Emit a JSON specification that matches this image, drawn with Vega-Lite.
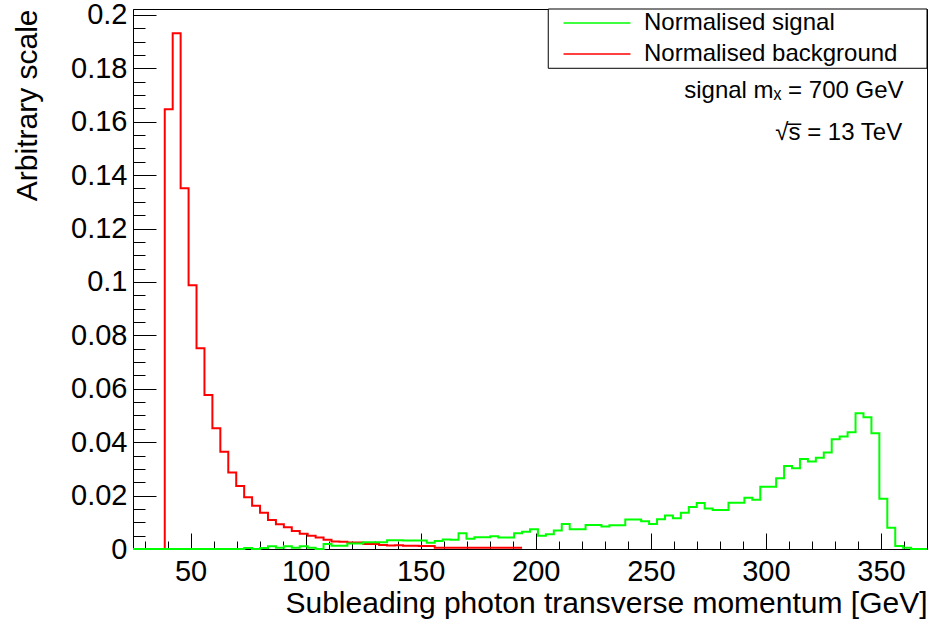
{
  "$schema": "https://vega.github.io/schema/vega-lite/v6.json",
  "width": 794,
  "height": 540,
  "autosize": {"type": "none"},
  "padding": {"left": 133, "top": 9, "right": 6, "bottom": 72},
  "background": "white",
  "datasets": {
    "signal": [
      {"pt": 25, "frac": 0}, {"pt": 28.45, "frac": 0}, {"pt": 31.9, "frac": 0}, {"pt": 35.35, "frac": 0},
      {"pt": 38.8, "frac": 0}, {"pt": 42.25, "frac": 0}, {"pt": 45.7, "frac": 0}, {"pt": 49.15, "frac": 0},
      {"pt": 52.6, "frac": 0}, {"pt": 56.05, "frac": 0}, {"pt": 59.5, "frac": 0}, {"pt": 62.95, "frac": 0},
      {"pt": 66.4, "frac": 0}, {"pt": 69.85, "frac": 0}, {"pt": 73.3, "frac": 0.0004}, {"pt": 76.75, "frac": 0},
      {"pt": 80.2, "frac": 0.0004}, {"pt": 83.65, "frac": 0.001}, {"pt": 87.1, "frac": 0.0005}, {"pt": 90.55, "frac": 0.001},
      {"pt": 94, "frac": 0.0005}, {"pt": 97.45, "frac": 0.001}, {"pt": 100.9, "frac": 0.0005}, {"pt": 104.35, "frac": 0},
      {"pt": 107.8, "frac": 0.0019}, {"pt": 111.25, "frac": 0.0012}, {"pt": 114.7, "frac": 0.0012}, {"pt": 118.15, "frac": 0.0021},
      {"pt": 121.6, "frac": 0.0021}, {"pt": 125.05, "frac": 0.0025}, {"pt": 128.5, "frac": 0.0025}, {"pt": 131.95, "frac": 0.0025},
      {"pt": 135.4, "frac": 0.0033}, {"pt": 138.85, "frac": 0.0033}, {"pt": 142.3, "frac": 0.0032}, {"pt": 145.75, "frac": 0.0032},
      {"pt": 149.2, "frac": 0.0032}, {"pt": 152.65, "frac": 0.0023}, {"pt": 156.1, "frac": 0.003}, {"pt": 159.55, "frac": 0.0036},
      {"pt": 163, "frac": 0.0035}, {"pt": 166.45, "frac": 0.0059}, {"pt": 169.9, "frac": 0.0038}, {"pt": 173.35, "frac": 0.0044},
      {"pt": 176.8, "frac": 0.0044}, {"pt": 180.25, "frac": 0.0048}, {"pt": 183.7, "frac": 0.0043}, {"pt": 187.15, "frac": 0.0043},
      {"pt": 190.6, "frac": 0.0059}, {"pt": 194.05, "frac": 0.0065}, {"pt": 197.5, "frac": 0.0074}, {"pt": 200.95, "frac": 0.005},
      {"pt": 204.4, "frac": 0.0055}, {"pt": 207.85, "frac": 0.0069}, {"pt": 211.3, "frac": 0.0094}, {"pt": 214.75, "frac": 0.0074},
      {"pt": 218.2, "frac": 0.0074}, {"pt": 221.65, "frac": 0.009}, {"pt": 225.1, "frac": 0.009}, {"pt": 228.55, "frac": 0.0084},
      {"pt": 232, "frac": 0.0089}, {"pt": 235.45, "frac": 0.0089}, {"pt": 238.9, "frac": 0.011}, {"pt": 242.35, "frac": 0.011},
      {"pt": 245.8, "frac": 0.0104}, {"pt": 249.25, "frac": 0.0094}, {"pt": 252.7, "frac": 0.0111}, {"pt": 256.15, "frac": 0.0125},
      {"pt": 259.6, "frac": 0.0115}, {"pt": 263.05, "frac": 0.0136}, {"pt": 266.5, "frac": 0.0157}, {"pt": 269.95, "frac": 0.0172},
      {"pt": 273.4, "frac": 0.0152}, {"pt": 276.85, "frac": 0.0146}, {"pt": 280.3, "frac": 0.0146}, {"pt": 283.75, "frac": 0.0173},
      {"pt": 287.2, "frac": 0.0173}, {"pt": 290.65, "frac": 0.0192}, {"pt": 294.1, "frac": 0.0184}, {"pt": 297.55, "frac": 0.0233},
      {"pt": 301, "frac": 0.0233}, {"pt": 304.45, "frac": 0.0265}, {"pt": 307.9, "frac": 0.0311}, {"pt": 311.35, "frac": 0.0302},
      {"pt": 314.8, "frac": 0.0337}, {"pt": 318.25, "frac": 0.0328}, {"pt": 321.7, "frac": 0.0342}, {"pt": 325.15, "frac": 0.0361},
      {"pt": 328.6, "frac": 0.0411}, {"pt": 332.05, "frac": 0.0421}, {"pt": 335.5, "frac": 0.0437}, {"pt": 338.95, "frac": 0.0508},
      {"pt": 342.4, "frac": 0.0493}, {"pt": 345.85, "frac": 0.0433}, {"pt": 349.3, "frac": 0.0188}, {"pt": 352.75, "frac": 0.008},
      {"pt": 356.2, "frac": 0.0011}, {"pt": 359.65, "frac": 0.0005}, {"pt": 363.1, "frac": 0}, {"pt": 366.55, "frac": 0},
      {"pt": 370, "frac": 0}
    ],
    "background": [
      {"pt": 25, "frac": 0}, {"pt": 28.45, "frac": 0}, {"pt": 31.9, "frac": 0}, {"pt": 35.35, "frac": 0},
      {"pt": 38.8, "frac": 0.1647}, {"pt": 42.25, "frac": 0.1931}, {"pt": 45.7, "frac": 0.1351}, {"pt": 49.15, "frac": 0.0988},
      {"pt": 52.6, "frac": 0.0752}, {"pt": 56.05, "frac": 0.0577}, {"pt": 59.5, "frac": 0.0452}, {"pt": 62.95, "frac": 0.0364},
      {"pt": 66.4, "frac": 0.0286}, {"pt": 69.85, "frac": 0.0236}, {"pt": 73.3, "frac": 0.0194}, {"pt": 76.75, "frac": 0.0162},
      {"pt": 80.2, "frac": 0.0136}, {"pt": 83.65, "frac": 0.0109}, {"pt": 87.1, "frac": 0.0093}, {"pt": 90.55, "frac": 0.0081},
      {"pt": 94, "frac": 0.0067}, {"pt": 97.45, "frac": 0.0057}, {"pt": 100.9, "frac": 0.005}, {"pt": 104.35, "frac": 0.0043},
      {"pt": 107.8, "frac": 0.0035}, {"pt": 111.25, "frac": 0.0028}, {"pt": 114.7, "frac": 0.0027}, {"pt": 118.15, "frac": 0.0024},
      {"pt": 121.6, "frac": 0.0024}, {"pt": 125.05, "frac": 0.0019}, {"pt": 128.5, "frac": 0.0019}, {"pt": 131.95, "frac": 0.0015},
      {"pt": 135.4, "frac": 0.0013}, {"pt": 138.85, "frac": 0.0014}, {"pt": 142.3, "frac": 0.0012}, {"pt": 145.75, "frac": 0.0012},
      {"pt": 149.2, "frac": 0.0011}, {"pt": 152.65, "frac": 0.0011}, {"pt": 156.1, "frac": 0.0005}, {"pt": 159.55, "frac": 0.0005},
      {"pt": 163, "frac": 0.0005}, {"pt": 166.45, "frac": 0.0005}, {"pt": 169.9, "frac": 0.0005}, {"pt": 173.35, "frac": 0.0005},
      {"pt": 176.8, "frac": 0.0005}, {"pt": 180.25, "frac": 0.0005}, {"pt": 183.7, "frac": 0.0005}, {"pt": 187.15, "frac": 0.0005},
      {"pt": 190.6, "frac": 0.0005}, {"pt": 194.05, "frac": 0.0005}
    ],
    "notes": [
      {"note": "signal mₓ = 700 GeV"},
      {"note": "√s̅ = 13 TeV"}
    ]
  },
  "layer": [
    {
      "data": {"values": [{}]},
      "mark": {"type": "rect", "fill": "white", "stroke": "black", "strokeWidth": 1},
      "encoding": {
        "x": {"datum": 205.43, "type": "quantitative", "axis": null},
        "x2": {"datum": 370},
        "y": {"datum": 0.2022, "type": "quantitative", "axis": null},
        "y2": {"datum": 0.18}
      }
    },
    {
      "data": {"name": "background"},
      "mark": {"type": "line", "interpolate": "step-after", "strokeWidth": 2},
      "encoding": {
        "x": {
          "field": "pt", "type": "quantitative",
          "scale": {"domain": [25, 370], "nice": false, "zero": false},
          "axis": {
            "orient": "bottom",
            "values": [50, 100, 150, 200, 250, 300, 350],
            "tickSize": -16,
            "labelFontSize": 29,
            "labelPadding": 24,
            "title": "Subleading photon transverse momentum [GeV]",
            "titleFontSize": 30,
            "titleAnchor": "end",
            "titlePadding": 2
          }
        },
        "y": {
          "field": "frac", "type": "quantitative",
          "scale": {"domain": [0, 0.2022], "nice": false},
          "axis": {
            "orient": "left",
            "values": [0, 0.02, 0.04, 0.06, 0.08, 0.1, 0.12, 0.14, 0.16, 0.18, 0.2],
            "format": ".2~f",
            "tickSize": -23,
            "labelFontSize": 29,
            "labelPadding": 29,
            "title": "Arbitrary scale",
            "titleFontSize": 30,
            "titleAnchor": "end",
            "titlePadding": 28
          }
        },
        "color": {
          "datum": "Normalised background",
          "scale": {"domain": ["Normalised signal", "Normalised background"], "range": ["#00ff00", "#ff0000"]},
          "legend": {
            "orient": "none",
            "legendX": 415,
            "legendY": 0,
            "title": null,
            "padding": 2,
            "symbolType": "M-3,0L3,0",
            "symbolSize": 498,
            "symbolStrokeWidth": 1.5,
            "symbolFillColor": "transparent",
            "symbolOffset": 35,
            "labelFont": "Liberation Sans",
            "labelFontSize": 24,
            "labelColor": "black",
            "labelOffset": 35,
            "labelLimit": 400,
            "rowPadding": 7
          }
        }
      }
    },
    {
      "data": {"name": "signal"},
      "mark": {"type": "line", "interpolate": "step-after", "strokeWidth": 2},
      "encoding": {
        "x": {
          "field": "pt", "type": "quantitative",
          "axis": {
            "orient": "bottom",
            "values": [30, 40, 60, 70, 80, 90, 110, 120, 130, 140, 160, 170, 180, 190, 210, 220, 230, 240, 260, 270, 280, 290, 310, 320, 330, 340, 360],
            "tickSize": -8,
            "labels": false,
            "domain": false,
            "title": null
          }
        },
        "y": {
          "field": "frac", "type": "quantitative",
          "axis": {
            "orient": "left",
            "values": [0.005, 0.01, 0.015, 0.025, 0.03, 0.035, 0.045, 0.05, 0.055, 0.065, 0.07, 0.075, 0.085, 0.09, 0.095, 0.105, 0.11, 0.115, 0.125, 0.13, 0.135, 0.145, 0.15, 0.155, 0.165, 0.17, 0.175, 0.185, 0.19, 0.195],
            "tickSize": -12,
            "labels": false,
            "domain": false,
            "title": null
          }
        },
        "color": {"datum": "Normalised signal"}
      }
    },
    {
      "data": {"name": "notes"},
      "transform": [{"filter": "datum.note == 'signal mₓ = 700 GeV'"}],
      "mark": {"type": "text", "align": "right", "baseline": "alphabetic", "font": "Liberation Sans", "fontSize": 24, "color": "black"},
      "encoding": {
        "x": {"datum": 359.8, "type": "quantitative", "axis": null},
        "y": {"datum": 0.1688, "type": "quantitative", "axis": null},
        "text": {"field": "note"}
      }
    },
    {
      "data": {"name": "notes"},
      "transform": [{"filter": "datum.note != 'signal mₓ = 700 GeV'"}],
      "mark": {"type": "text", "align": "right", "baseline": "alphabetic", "font": "Liberation Sans", "fontSize": 24, "color": "black"},
      "encoding": {
        "x": {"datum": 359.2, "type": "quantitative", "axis": null},
        "y": {"datum": 0.1532, "type": "quantitative", "axis": null},
        "text": {"field": "note"}
      }
    }
  ],
  "resolve": {"axis": {"x": "independent", "y": "independent"}},
  "config": {
    "font": "Liberation Sans",
    "axis": {
      "labelFont": "Liberation Sans",
      "titleFont": "Liberation Sans",
      "labelColor": "black",
      "titleColor": "black",
      "titleFontWeight": "normal",
      "tickColor": "black",
      "domainColor": "black",
      "grid": false
    },
    "view": {"stroke": "black", "strokeWidth": 1}
  }
}
